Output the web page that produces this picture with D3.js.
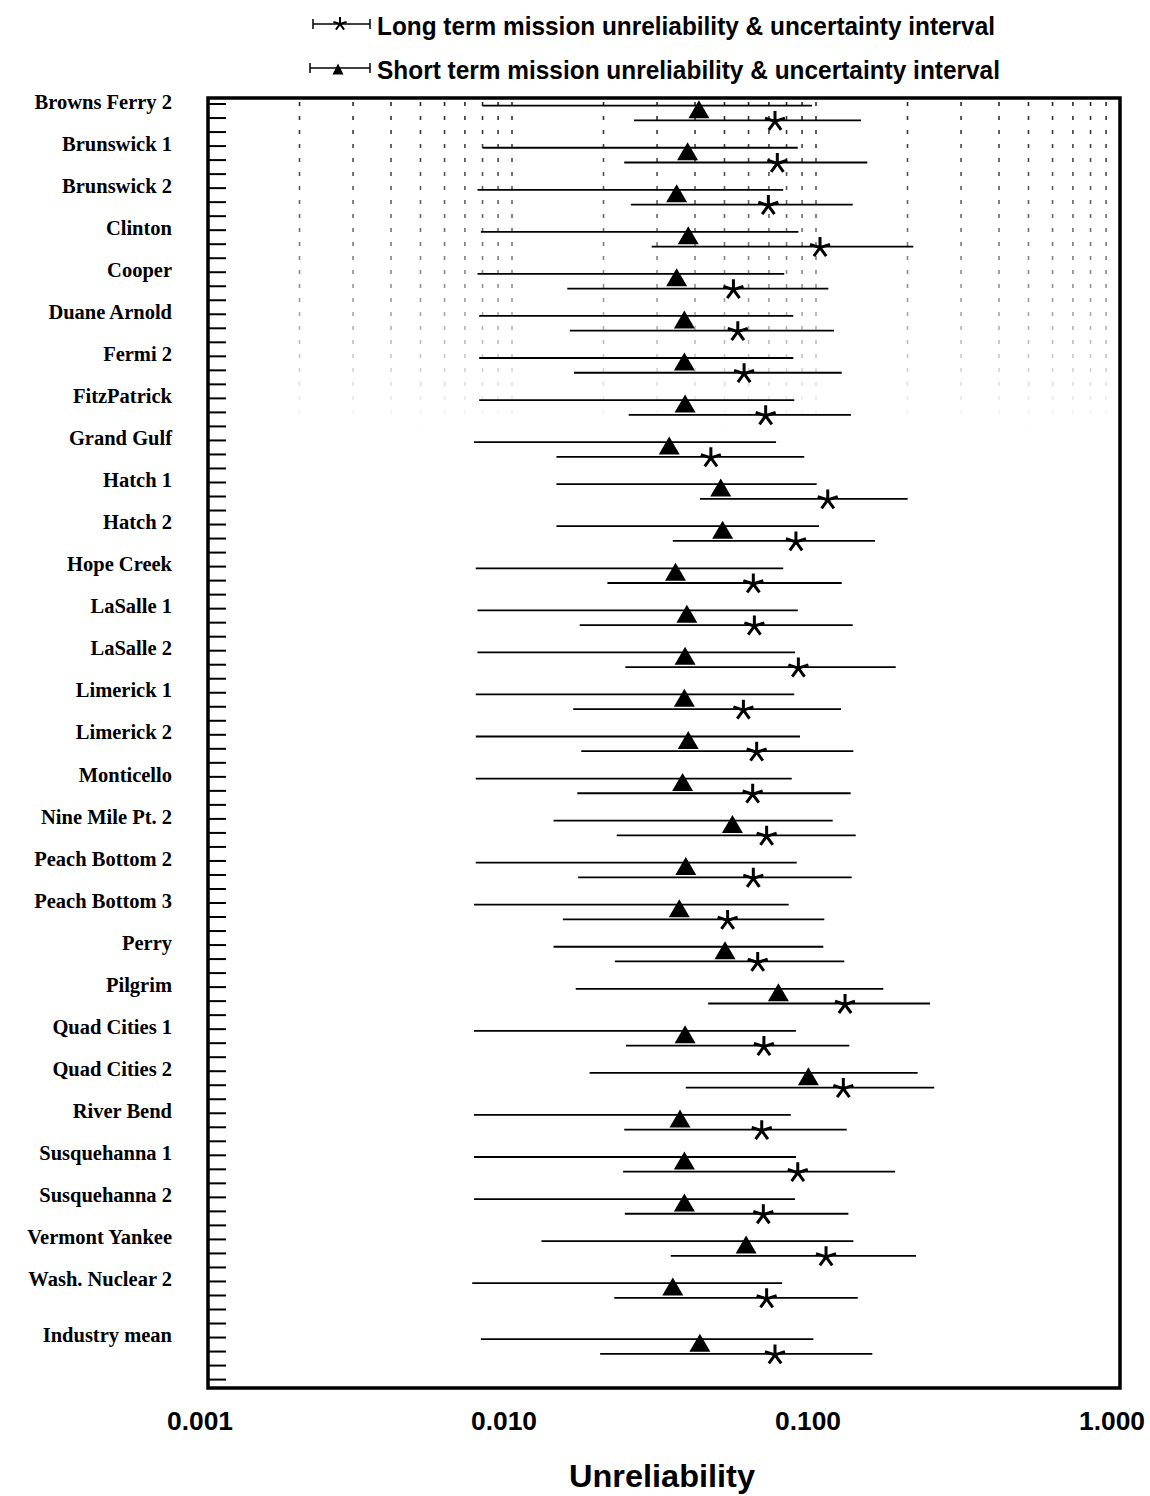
<!DOCTYPE html>
<html><head><meta charset="utf-8">
<script src="https://cdn.jsdelivr.net/npm/d3@7"></script>
<style>body{margin:0;background:#fff}</style></head>
<body>
<svg id="c" width="1150" height="1496"></svg>
<script>
const plants = ["Browns Ferry 2","Brunswick 1","Brunswick 2","Clinton","Cooper","Duane Arnold","Fermi 2","FitzPatrick","Grand Gulf","Hatch 1","Hatch 2","Hope Creek","LaSalle 1","LaSalle 2","Limerick 1","Limerick 2","Monticello","Nine Mile Pt. 2","Peach Bottom 2","Peach Bottom 3","Perry","Pilgrim","Quad Cities 1","Quad Cities 2","River Bend","Susquehanna 1","Susquehanna 2","Vermont Yankee","Wash. Nuclear 2","Industry mean"];
const shortLo  = [0.0080,0.0080,0.0077,0.0079,0.0077,0.0078,0.0078,0.0078,0.0075,0.0140,0.0140,0.0076,0.0077,0.0077,0.0076,0.0076,0.0076,0.0137,0.0076,0.0075,0.0137,0.0162,0.0075,0.0180,0.0075,0.0075,0.0075,0.0125,0.0074,0.0079];
const shortMid = [0.0412,0.0378,0.0348,0.0380,0.0348,0.0369,0.0369,0.0371,0.0329,0.0486,0.0493,0.0345,0.0376,0.0371,0.0369,0.0380,0.0364,0.0531,0.0373,0.0355,0.0502,0.0752,0.0371,0.0944,0.0357,0.0369,0.0369,0.0589,0.0338,0.0415];
const shortHi  = [0.0970,0.0871,0.0780,0.0875,0.0786,0.0842,0.0842,0.0848,0.0739,0.1005,0.1023,0.0780,0.0871,0.0853,0.0848,0.0886,0.0832,0.1135,0.0864,0.0813,0.1057,0.1665,0.0859,0.2160,0.0826,0.0859,0.0853,0.1327,0.0774,0.0980];
const longLo   = [0.0252,0.0234,0.0246,0.0288,0.0152,0.0155,0.0160,0.0242,0.0140,0.0415,0.0338,0.0206,0.0167,0.0236,0.0159,0.0169,0.0164,0.0221,0.0165,0.0147,0.0218,0.0442,0.0237,0.0373,0.0234,0.0232,0.0235,0.0333,0.0217,0.0195];
const longMid  = [0.0733,0.0746,0.0697,0.1031,0.0535,0.0553,0.0580,0.0683,0.0451,0.1093,0.0859,0.0622,0.0627,0.0875,0.0577,0.0638,0.0619,0.0688,0.0622,0.0512,0.0643,0.1246,0.0674,0.1230,0.0663,0.0871,0.0671,0.1079,0.0688,0.0733];
const longHi   = [0.1406,0.1475,0.1320,0.2090,0.1098,0.1146,0.1215,0.1303,0.0915,0.2002,0.1563,0.1215,0.1320,0.1829,0.1209,0.1327,0.1300,0.1351,0.1310,0.1065,0.1239,0.2371,0.1287,0.2449,0.1262,0.1820,0.1278,0.2133,0.1372,0.1532];
const tickValues = [0.001,0.01,0.1,1];
const tickLabels = ["0.001","0.010","0.100","1.000"];
const legendLabels = ["Long term mission unreliability & uncertainty interval","Short term mission unreliability & uncertainty interval"];
const axisTitle = "Unreliability";

const svg = d3.select("#c");
const L=208, R=1120, T=98, B=1388;
const x = d3.scaleLog().domain([0.001,1]).range([L,R]);
const y = d3.scaleLinear().domain([-0.43,91.6]).range([T,B]);

const rows = plants.map((p,i)=>{
  const base = 3*i + (i===plants.length-1 ? 1 : 0);
  return {name:p, sy:base+0.12, ly:base+1.17,
    sLo:shortLo[i], sMid:shortMid[i], sHi:shortHi[i],
    lLo:longLo[i], lMid:longMid[i], lHi:longHi[i]};
});

// faded dotted minor grid (top portion)
const defs = svg.append("defs");
const g = defs.append("linearGradient").attr("id","fade").attr("gradientUnits","userSpaceOnUse")
  .attr("x1",0).attr("y1",T).attr("x2",0).attr("y2",T+330);
g.append("stop").attr("offset",0).attr("stop-color","#000").attr("stop-opacity",0.85);
g.append("stop").attr("offset",0.55).attr("stop-color","#000").attr("stop-opacity",0.45);
g.append("stop").attr("offset",1).attr("stop-color","#000").attr("stop-opacity",0);
const gridVals = x.ticks().filter(v=>v>0.001 && v<1);
svg.append("g").selectAll("line").data(gridVals).join("line")
  .attr("x1",d=>x(d)).attr("x2",d=>x(d)).attr("y1",T+4).attr("y2",T+330)
  .attr("stroke","url(#fade)").attr("stroke-width",1.6).attr("stroke-dasharray","4,10");

// left ticks
svg.append("g").selectAll("line").data(d3.range(0,92)).join("line")
  .attr("x1",L).attr("x2",L+18).attr("y1",d=>y(d)).attr("y2",d=>y(d))
  .attr("stroke","#000").attr("stroke-width",2);

// error bars
const bars = svg.append("g").attr("stroke","#000").attr("stroke-width",1.8);
bars.selectAll(".s").data(rows).join("line").attr("class","s")
  .attr("x1",d=>x(d.sLo)).attr("x2",d=>x(d.sHi)).attr("y1",d=>y(d.sy)).attr("y2",d=>y(d.sy));
bars.selectAll(".l").data(rows).join("line").attr("class","l")
  .attr("x1",d=>x(d.lLo)).attr("x2",d=>x(d.lHi)).attr("y1",d=>y(d.ly)).attr("y2",d=>y(d.ly));

// markers
function triPath(w,h){ return `M0,${-h*0.42}L${w/2},${h*0.58}L${-w/2},${h*0.58}Z`; }
function starPath(r){
  let p="";
  for(let k=0;k<5;k++){const a=(-90+72*k)*Math.PI/180; p+=`M0,0L${(r*Math.cos(a)).toFixed(2)},${(r*Math.sin(a)).toFixed(2)}`;}
  return p;
}
svg.append("g").selectAll("path").data(rows).join("path")
  .attr("transform",d=>`translate(${x(d.sMid)},${y(d.sy)+2})`)
  .attr("d",triPath(21,18)).attr("fill","#000");
svg.append("g").selectAll("path").data(rows).join("path")
  .attr("transform",d=>`translate(${x(d.lMid)},${y(d.ly)+1})`)
  .attr("d",starPath(10.5)).attr("fill","none").attr("stroke","#000").attr("stroke-width",3).attr("stroke-linecap","butt");

// frame
svg.append("rect").attr("x",L).attr("y",T).attr("width",R-L).attr("height",B-T)
  .attr("fill","none").attr("stroke","#000").attr("stroke-width",3.5);

// row labels
svg.append("g").selectAll("text").data(rows).join("text")
  .attr("x",172).attr("y",d=>y(d.sy)+3)
  .attr("text-anchor","end").attr("font-family","'Liberation Serif','Times New Roman',serif")
  .attr("font-weight","bold").attr("font-size",20.5).attr("fill","#000").text(d=>d.name);

// x tick labels
svg.append("g").selectAll("text").data(tickValues).join("text")
  .attr("x",(d,i)=> i===tickValues.length-1 ? x(d)-8 : x(d)-8).attr("y",1430)
  .attr("text-anchor","middle").attr("font-family","'Liberation Sans',Arial,sans-serif")
  .attr("font-weight","bold").attr("font-size",26).attr("fill","#000")
  .attr("textLength",66).attr("lengthAdjust","spacingAndGlyphs")
  .text((d,i)=>tickLabels[i]);

// axis title
svg.append("text").attr("x",(L+R)/2-2).attr("y",1487).attr("text-anchor","middle")
  .attr("font-family","'Liberation Sans',Arial,sans-serif").attr("font-weight","bold")
  .attr("font-size",32).attr("textLength",186).attr("lengthAdjust","spacingAndGlyphs").text(axisTitle);

// legend
const lg = svg.append("g");
const legY = [24,68];
// long-term icon
lg.append("line").attr("x1",313).attr("x2",370).attr("y1",legY[0]).attr("y2",legY[0]).attr("stroke","#000").attr("stroke-width",1.5);
[313,370].forEach(cx=>lg.append("line").attr("x1",cx).attr("x2",cx).attr("y1",legY[0]-5).attr("y2",legY[0]+5).attr("stroke","#000").attr("stroke-width",1.5));
lg.append("path").attr("transform",`translate(340,${legY[0]})`).attr("d",starPath(7)).attr("fill","none").attr("stroke","#000").attr("stroke-width",2);
// short-term icon
lg.append("line").attr("x1",310).attr("x2",370).attr("y1",legY[1]).attr("y2",legY[1]).attr("stroke","#000").attr("stroke-width",1.5);
[310,370].forEach(cx=>lg.append("line").attr("x1",cx).attr("x2",cx).attr("y1",legY[1]-5).attr("y2",legY[1]+5).attr("stroke","#000").attr("stroke-width",1.5));
lg.append("path").attr("transform",`translate(338,${legY[1]})`).attr("d",triPath(11,11)).attr("fill","#000");
lg.selectAll("text").data(legendLabels).join("text")
  .attr("x",377).attr("y",(d,i)=>legY[i]+11)
  .attr("font-family","'Liberation Sans',Arial,sans-serif").attr("font-weight","bold")
  .attr("font-size",25).attr("textLength",(d,i)=>i===0?618:623).attr("lengthAdjust","spacingAndGlyphs")
  .text(d=>d);
</script>
</body></html>
